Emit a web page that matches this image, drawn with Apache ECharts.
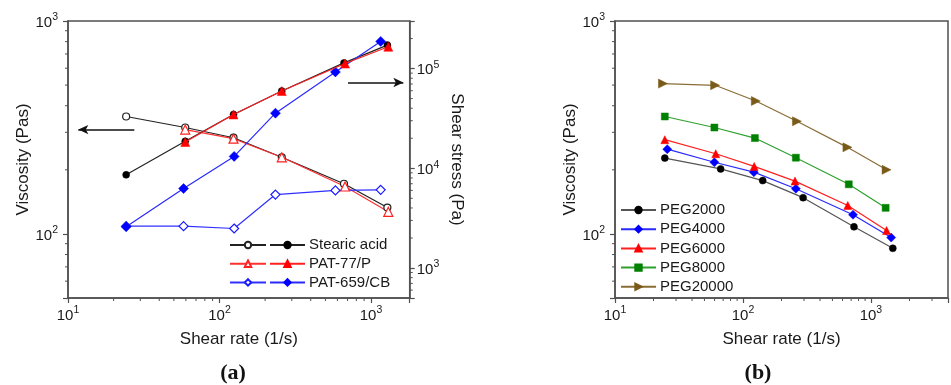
<!DOCTYPE html>
<html>
<head>
<meta charset="utf-8">
<script src="https://cdn.jsdelivr.net/npm/echarts@6/dist/echarts.min.js"></script>
<style>
  html, body { margin: 0; padding: 0; background: #fff; }
  #chart { width: 951px; height: 385px; }
</style>
</head>
<body>
<div id="chart"></div>
<script>
// (a) stearic acid / PAT additives
const rateStearic = [24.2, 59.4, 123.7, 257.6, 663, 1282]
const viscStearic = [356, 316, 283, 229, 172, 133]
const stressStearic = [8600, 18650, 34640, 59530, 114000, 171900]

const ratePat77 = [59.4, 123.7, 257.6, 674, 1300]
const viscPat77 = [309, 280, 229, 167, 127]
const stressPat77 = [18360, 34640, 59530, 112300, 165400]

const ratePat659 = [24.2, 57.9, 124.9, 233.9, 582, 1158]
const viscPat659 = [108.7, 108.7, 106, 153, 160, 161]
const stressPat659 = [2590, 6260, 13160, 35720, 92550, 187200]

// arrows pointing to the axes (shear rate, viscosity)
const arrowLeft = [[27.4, 309], [11.7, 309]]
const arrowRight = [[705, 514], [1634, 514]]

// (b) PEG grades
const ratePeg2000 = [24.5, 66.9, 142.6, 295, 737, 1482]
const viscPeg2000 = [227, 202, 178, 148, 108, 85.6]
const ratePeg4000 = [25.6, 59.8, 121.7, 259, 724, 1439]
const viscPeg4000 = [250, 217, 195, 163, 123, 96.1]
const ratePeg6000 = [24.5, 61.3, 122.4, 255, 659, 1325]
const viscPeg6000 = [277, 238, 207.5, 177, 136, 103.7]
const ratePeg8000 = [24.5, 59.8, 123.9, 259, 671, 1302]
const viscPeg8000 = [356, 316, 282, 228, 171, 132.6]
const ratePeg20000 = [23.7, 60.6, 126, 264, 655, 1325]
const viscPeg20000 = [508, 499, 421, 338, 255, 200]

// minor tick positions of the log axes
const minorRateA = [20, 30, 40, 50, 60, 70, 80, 90, 200, 300, 400, 500, 600, 700, 800, 900]
const minorRateB = [20, 30, 40, 50, 60, 70, 80, 90, 200, 300, 400, 500, 600, 700, 800, 900, 2000, 3000]
const minorVisc = [60, 70, 80, 90, 200, 300, 400, 500, 600, 700, 800, 900]
const minorStress = [600, 700, 800, 900, 2000, 3000, 4000, 5000, 6000, 7000, 8000, 9000,
  20000, 30000, 40000, 50000, 60000, 70000, 80000, 90000, 200000]

const pairs = (xs, ys) => xs.map((x, i) => [x, ys[i]])

const fontFamily = '"Liberation Sans", Arial, sans-serif'
const axisColor = '#505050'
const textColor = '#1a1a1a'

// 10^n labels, nothing on the in-between boundary ticks
const powLabel = (v) => {
  const e = Math.log10(v)
  const r = Math.round(e)
  if (Math.abs(e - r) > 1e-6) return ''
  return '{b|10}{s|' + r + '}'
}
const powRich = {
  b: { fontSize: 15, lineHeight: 18, verticalAlign: 'bottom', color: textColor, fontFamily },
  s: { fontSize: 10.5, lineHeight: 13, verticalAlign: 'top', color: textColor, fontFamily }
}

const logAxis = (extra) => Object.assign({
  type: 'log',
  logBase: 10,
  nameLocation: 'middle',
  nameTextStyle: { fontSize: 17, color: textColor, fontFamily },
  axisLine: { show: true, lineStyle: { color: axisColor, width: 1.5 } },
  axisTick: { show: true, length: 5, lineStyle: { color: axisColor, width: 1.2 } },
  splitLine: { show: false },
  axisLabel: { formatter: powLabel, rich: powRich }
}, extra)

// short outward ticks drawn at the axis edge through the axis scale
const minorTicks = (xIdx, yIdx, points, dx, dy) => ({
  type: 'custom',
  xAxisIndex: xIdx,
  yAxisIndex: yIdx,
  silent: true,
  clip: false,
  z: 1,
  data: points,
  renderItem: (params, api) => {
    const p = api.coord([api.value(0), api.value(1)])
    return {
      type: 'line',
      shape: { x1: p[0], y1: p[1], x2: p[0] + dx, y2: p[1] + dy },
      style: { stroke: axisColor, lineWidth: 1 }
    }
  }
})

const lineSeries = (name, data, opt) => ({
  name,
  type: 'line',
  data,
  xAxisIndex: opt.x,
  yAxisIndex: opt.y,
  symbol: opt.symbol,
  symbolSize: opt.size,
  showAllSymbol: true,
  lineStyle: { color: opt.line, width: 1.2 },
  itemStyle: opt.open
    ? { color: '#fff', borderColor: opt.color, borderWidth: 1.2 }
    : { color: opt.color, borderColor: opt.color, borderWidth: 0.5 },
  emphasis: { disabled: true },
  z: opt.z || 2
})

const rightTri = 'path://M0,0 L10,5 L0,10 Z'

const option = {
  animation: false,
  backgroundColor: '#fff',
  grid: [
    { left: 68, top: 21, right: 541.3, bottom: 87, show: true, borderColor: axisColor, borderWidth: 1.5 },
    { left: 615, top: 21, right: -4.5, bottom: 87, show: true, borderColor: axisColor, borderWidth: 1.5 }
  ],
  xAxis: [
    logAxis({ gridIndex: 0, min: 10, max: 1800, name: 'Shear rate (1/s)', nameGap: 33,
      axisLabel: { formatter: powLabel, rich: powRich, margin: 7 } }),
    logAxis({ gridIndex: 1, min: 10, max: 4000, name: 'Shear rate (1/s)', nameGap: 33,
      axisLabel: { formatter: powLabel, rich: powRich, margin: 7 } })
  ],
  yAxis: [
    logAxis({ gridIndex: 0, min: 50, max: 1000, name: 'Viscosity (Pas)', nameGap: 36,
      axisLabel: { formatter: powLabel, rich: powRich, margin: 10 } }),
    logAxis({ gridIndex: 0, position: 'right', min: 500, max: 300000, name: 'Shear stress (Pa)',
      nameGap: 38, nameRotate: -90,
      axisLabel: { formatter: powLabel, rich: powRich, margin: 7 } }),
    logAxis({ gridIndex: 1, min: 50, max: 1000, name: 'Viscosity (Pas)', nameGap: 36,
      axisLabel: { formatter: powLabel, rich: powRich, margin: 10 } })
  ],
  legend: [
    {
      // open-symbol column, no text
      data: ['Stearic acid η', 'PAT-77/P η', 'PAT-659/CB η'],
      orient: 'vertical', left: 229, top: 237, padding: 0,
      itemWidth: 36, itemHeight: 8, itemGap: 2.7,
      formatter: () => ' ',
      textStyle: { fontSize: 15, lineHeight: 16, fontFamily },
      selectedMode: false
    },
    {
      data: ['Stearic acid', 'PAT-77/P', 'PAT-659/CB'],
      orient: 'vertical', left: 269, top: 237, padding: 0,
      itemWidth: 35, itemHeight: 8, itemGap: 2.7,
      textStyle: { fontSize: 15, lineHeight: 16, color: textColor, fontFamily, padding: [0, 0, 0, -1] },
      selectedMode: false
    },
    {
      data: ['PEG2000', 'PEG4000', 'PEG6000', 'PEG8000', 'PEG20000'],
      orient: 'vertical', left: 620, top: 202, padding: 0,
      itemWidth: 35, itemHeight: 8, itemGap: 3.2,
      textStyle: { fontSize: 15, lineHeight: 16, color: textColor, fontFamily, padding: [0, 0, 0, -1] },
      selectedMode: false
    }
  ],
  series: [
    // viscosity, left axis (open)
    Object.assign(lineSeries('Stearic acid η', pairs(rateStearic, viscStearic),
      { x: 0, y: 0, symbol: 'circle', size: 7, color: '#222', line: '#222', open: true }), {
      markLine: {
        silent: true,
        symbol: ['none', 'arrow'],
        symbolSize: [7, 10],
        label: { show: false },
        lineStyle: { color: '#111', width: 1.5, type: 'solid' },
        data: [
          [{ coord: arrowLeft[0] }, { coord: arrowLeft[1] }],
          [{ coord: arrowRight[0] }, { coord: arrowRight[1] }]
        ]
      }
    }),
    lineSeries('PAT-77/P η', pairs(ratePat77, viscPat77),
      { x: 0, y: 0, symbol: 'triangle', size: 9, color: '#ff2020', line: '#ff3030', open: true }),
    lineSeries('PAT-659/CB η', pairs(ratePat659, viscPat659),
      { x: 0, y: 0, symbol: 'diamond', size: 9, color: '#1a1aff', line: '#3030ff', open: true }),
    // shear stress, right axis (filled)
    lineSeries('Stearic acid', pairs(rateStearic, stressStearic),
      { x: 0, y: 1, symbol: 'circle', size: 7, color: '#000', line: '#222' }),
    lineSeries('PAT-77/P', pairs(ratePat77, stressPat77),
      { x: 0, y: 1, symbol: 'triangle', size: 9, color: '#ff0000', line: '#ff2020', z: 3 }),
    lineSeries('PAT-659/CB', pairs(ratePat659, stressPat659),
      { x: 0, y: 1, symbol: 'diamond', size: 10, color: '#0000ff', line: '#2a2aff' }),
    // (b)
    lineSeries('PEG2000', pairs(ratePeg2000, viscPeg2000),
      { x: 1, y: 2, symbol: 'circle', size: 7, color: '#000', line: '#555' }),
    lineSeries('PEG4000', pairs(ratePeg4000, viscPeg4000),
      { x: 1, y: 2, symbol: 'diamond', size: 9, color: '#0000ff', line: '#2a2aff' }),
    lineSeries('PEG6000', pairs(ratePeg6000, viscPeg6000),
      { x: 1, y: 2, symbol: 'triangle', size: 8, color: '#ff0000', line: '#ff2020' }),
    lineSeries('PEG8000', pairs(ratePeg8000, viscPeg8000),
      { x: 1, y: 2, symbol: 'rect', size: 7, color: '#008000', line: '#2ea02e' }),
    lineSeries('PEG20000', pairs(ratePeg20000, viscPeg20000),
      { x: 1, y: 2, symbol: rightTri, size: 9, color: '#7a5a18', line: '#8a6d35' }),
    // minor ticks
    minorTicks(0, 0, minorRateA.map(v => [v, 50]), 0, 3),
    minorTicks(0, 0, minorVisc.map(v => [10, v]), -3, 0),
    minorTicks(0, 1, minorStress.map(v => [1800, v]), 3, 0),
    minorTicks(1, 2, minorRateB.map(v => [v, 50]), 0, 3),
    minorTicks(1, 2, minorVisc.map(v => [10, v]), -3, 0)
  ],
  graphic: [
    { type: 'text', x: 233, y: 373, style: { text: '(a)', font: 'bold 22px "Liberation Serif", serif',
      fill: '#111', align: 'center', verticalAlign: 'middle', textAlign: 'center', textVerticalAlign: 'middle' } },
    { type: 'text', x: 758, y: 373, style: { text: '(b)', font: 'bold 22px "Liberation Serif", serif',
      fill: '#111', align: 'center', verticalAlign: 'middle', textAlign: 'center', textVerticalAlign: 'middle' } }
  ]
}

const chart = echarts.init(document.getElementById('chart'), null, { renderer: 'canvas' })
chart.setOption(option)
window.addEventListener('resize', () => chart.resize())
</script>
</body>
</html>
